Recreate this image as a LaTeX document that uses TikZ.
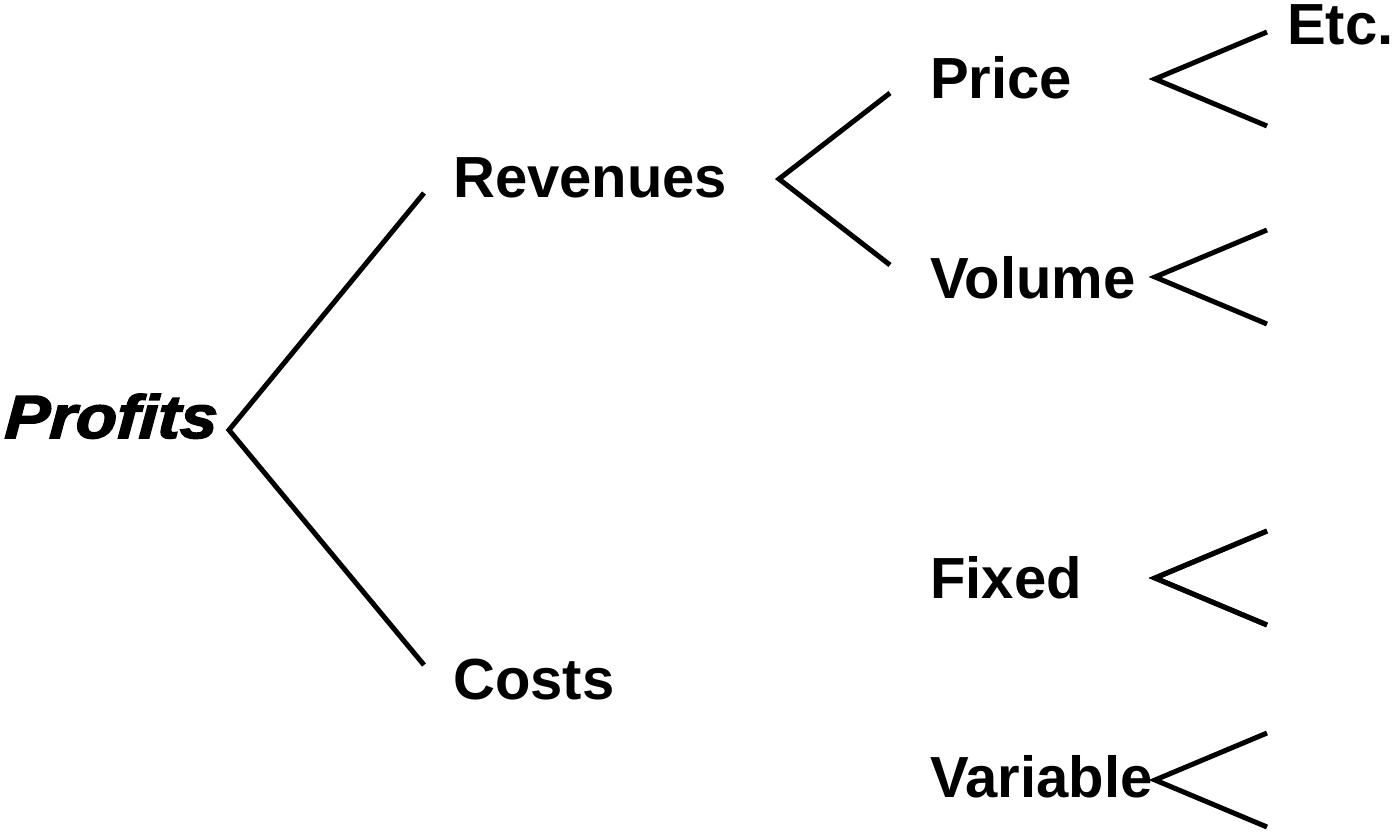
\documentclass[tikz,border=0pt]{standalone}
\usepackage{fontspec}
\setmainfont{Liberation Sans}
\newfontfamily\heavyfam{Liberation Sans}[BoldItalicFeatures={FakeBold=2.5,FakeSlant=0.05}]
\begin{document}
\begin{tikzpicture}[x=1pt,y=1pt,
  lbl/.style={anchor=base west,inner sep=0pt,font=\fontsize{58}{60}\selectfont\bfseries},
  branch/.style={line width=5pt,line join=miter}]
\useasboundingbox (0,0) rectangle (1395,-831);
% labels
\node[anchor=base west,inner sep=0pt,font=\fontsize{61}{63}\selectfont\heavyfam\bfseries\itshape] (profits) at (4,-438) {\scalebox{1.1}[1]{Profits}};
\node[lbl] (rev) at (453,-197) {Revenues};
\node[lbl] (cost) at (453,-699) {Costs};
\node[lbl] (price) at (930,-98) {Price};
\node[lbl] (vol) at (930,-298) {Volume};
\node[lbl] (fixed) at (930,-598) {Fixed};
\node[lbl] (var) at (930,-797) {Variable};
\node[lbl] (etc) at (1287,-44) {Etc.};
% fork points
\coordinate (p0) at (229,-430);
\coordinate (p1) at (424,-193);
\coordinate (p2) at (424,-665);
\coordinate (r0) at (779,-179);
\coordinate (r1) at (890,-93);
\coordinate (r2) at (890,-265);
\coordinate (c0) at (779,-680);
\coordinate (c1) at (890,-594);
\coordinate (c2) at (890,-767);
\foreach \n/\y in {a/79,b/277,c/578,d/780}{
  \coordinate (\n0) at (1155,-\y);
  \coordinate (\n1) at (1267,-\y+47);
  \coordinate (\n2) at (1267,-\y-47);
}
% branches
\draw[branch] (p1) -- (p0) -- (p2);
\draw[branch] (r1) -- (r0) -- (r2);
\draw[branch] (c1) -- (c0) -- (c2);
\foreach \n in {a,b,c,d}{
  \draw[branch] (\n1) -- (\n0) -- (\n2);
}
\end{tikzpicture}
\end{document}
